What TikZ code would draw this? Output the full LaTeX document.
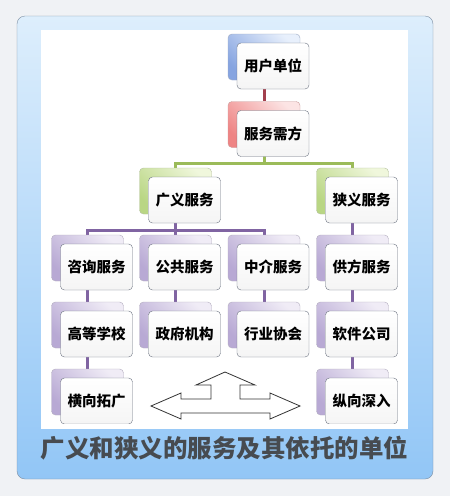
\documentclass[tikz,border=0pt]{standalone}
\usepackage{fontspec}
\newfontfamily\cjk{Noto Sans CJK SC}

\definecolor{pagebg}{HTML}{F0F2F5}
\definecolor{paneltop}{HTML}{DDEEFC}
\definecolor{panelbot}{HTML}{92C6F6}
\definecolor{panelline}{HTML}{7D8FA3}
\definecolor{boxline}{HTML}{6B7280}
\definecolor{titlegray}{HTML}{474B50}
\definecolor{linkred}{HTML}{A3404E}
\definecolor{linkgreen}{HTML}{9BBB59}
\definecolor{linkpurple}{HTML}{8064A2}
\definecolor{blueL}{HTML}{E8F0FC}
\definecolor{blueD}{HTML}{86A4E0}
\definecolor{redL}{HTML}{FCE4E4}
\definecolor{redD}{HTML}{EE8484}
\definecolor{greenL}{HTML}{F0F7DC}
\definecolor{greenD}{HTML}{B9D684}
\definecolor{purpleL}{HTML}{F0ECF6}
\definecolor{purpleD}{HTML}{B8A9D4}

\pgfdeclarelayer{panel}
\pgfdeclarelayer{links}
\pgfsetlayers{panel,links,main}

\begin{document}
\begin{tikzpicture}[x=1pt, y=-1pt,
    back/.style = {draw=#1D!70!black!60, top color=#1L, bottom color=#1D, shading angle=-45,
        rounded corners=4pt, minimum width=72pt, minimum height=46pt, inner sep=0pt},
    front/.style = {draw=boxline, top color=white, bottom color=black!4, rounded corners=4pt,
        minimum width=72pt, minimum height=46pt, inner sep=0pt,
        font=\cjk\bfseries\fontsize{14.5}{16}\selectfont},
    link/.style = {draw=#1, line width=3pt}]

	\useasboundingbox (0,0) rectangle (450,496);

	\begin{pgfonlayer}{panel}
		\fill[pagebg] (0,0) rectangle (450,496);
		\draw[panelline, top color=paneltop, bottom color=panelbot, rounded corners=8pt] (17,16) rectangle (433,479);
		\fill[white] (41,30) rectangle (408,429);
	\end{pgfonlayer}

	\node[back=blue] (Ub) at (264,57) {};
	\node[front] (U) at (273,66) {用户单位};
	\node[back=red] (Db) at (264,124.5) {};
	\node[front] (D) at (273,133.5) {服务需方};

	\node[back=green] (Bb) at (175.5,191) {};
	\node[front] (B) at (184.5,200) {广义服务};
	\node[back=green] (Nb) at (352.5,191) {};
	\node[front] (N) at (361.5,200) {狭义服务};

	\node[back=purple] (C1b) at (87.5,258) {};
	\node[front] (C1) at (96.5,267) {咨询服务};
	\node[back=purple] (C2b) at (175.5,258) {};
	\node[front] (C2) at (184.5,267) {公共服务};
	\node[back=purple] (C3b) at (264,258) {};
	\node[front] (C3) at (273,267) {中介服务};
	\node[back=purple] (C4b) at (352.5,258) {};
	\node[front] (C4) at (361.5,267) {供方服务};

	\node[back=purple] (E1b) at (87.5,325) {};
	\node[front] (E1) at (96.5,334) {高等学校};
	\node[back=purple] (E2b) at (175.5,325) {};
	\node[front] (E2) at (184.5,334) {政府机构};
	\node[back=purple] (E3b) at (264,325) {};
	\node[front] (E3) at (273,334) {行业协会};
	\node[back=purple] (E4b) at (352.5,325) {};
	\node[front] (E4) at (361.5,334) {软件公司};

	\begin{scope}
		\clip (0,0) rectangle (450,423.5);
		\node[back=purple] (H1b) at (87.5,392) {};
		\node[front] (H1) at (96.5,401) {横向拓广};
		\node[back=purple] (H4b) at (352.5,392) {};
		\node[front] (H4) at (361.5,401) {纵向深入};
	\end{scope}

	\coordinate (j1) at (264,163);
	\coordinate (j2) at (175.5,230);

	\begin{pgfonlayer}{links}
		\draw[link=linkred] (Ub) -- (Db);
		\draw[link=linkgreen] (Db) -- (j1) -| (Bb);
		\draw[link=linkgreen] (j1) -| (Nb);
		\draw[link=linkpurple] (Bb) -- (j2) -| (C1b);
		\draw[link=linkpurple] (j2) -| (C3b);
		\draw[link=linkpurple] (j2) -- (C2b);
		\draw[link=linkpurple] (Nb) -- (C4b);
		\draw[link=linkpurple] (C1b) -- (E1b);
		\draw[link=linkpurple] (C2b) -- (E2b);
		\draw[link=linkpurple] (C3b) -- (E3b);
		\draw[link=linkpurple] (C4b) -- (E4b);
		\draw[link=linkpurple] (E1b) -- (H1b);
		\draw[link=linkpurple] (E4b) -- (H4b);
	\end{pgfonlayer}

	\draw[black!80, fill=white, line width=0.8pt] (151,406) -- (181,393) -- (181,399) -- (211,399) -- (211,385)
		-- (196,385) -- (225,372) -- (255,385) -- (240,385) -- (240,399) -- (270,399) -- (270,393)
		-- (300,406) -- (270,419) -- (270,413) -- (181,413) -- (181,419) -- cycle;

	\node[font=\cjk\bfseries\fontsize{24.5}{26}\selectfont, text=titlegray] (title) at (224.5,448) {广义和狭义的服务及其依托的单位};
\end{tikzpicture}
\end{document}
